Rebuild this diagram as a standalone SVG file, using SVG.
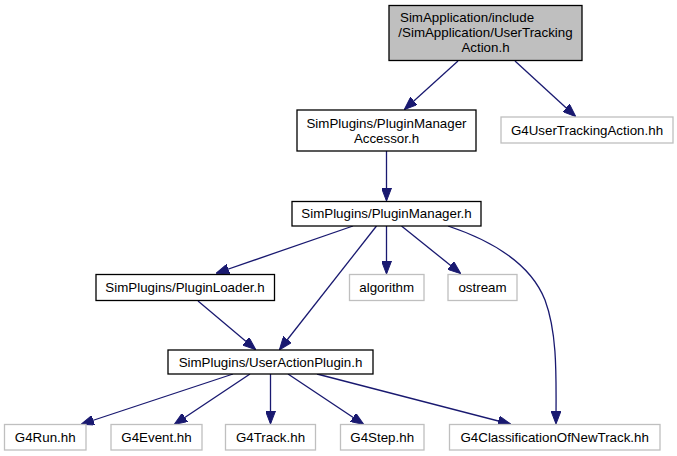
<svg xmlns="http://www.w3.org/2000/svg" width="677" height="456" viewBox="0 0 677 456">
<style>
  text { font-family: "Liberation Sans", Arial, Helvetica, sans-serif; font-size: 13.33px; fill: #000; }
  .c { text-anchor: middle; }
  .s { text-anchor: start; }
  .n rect { fill: #fff; stroke: #000; stroke-width: 1.3; }
  .g rect { fill: #fff; stroke: #bfbfbf; stroke-width: 1.3; }
  .top rect { fill: #bfbfbf; stroke: #000; stroke-width: 1.3; }
  #edges path { fill: none; stroke: #191970; stroke-width: 1.3; marker-end: url(#ah); }
</style>
<defs>
  <marker id="ah" viewBox="0 0 13 10" refX="12" refY="5" markerWidth="13" markerHeight="10" markerUnits="userSpaceOnUse" orient="auto">
    <path d="M0,0 L13,5 L0,10 z" fill="#191970" stroke="#191970" stroke-width="1"/>
  </marker>
</defs>
<rect width="677" height="456" fill="#fff"/>
<g id="edges">
  <path d="M458,61 L405,109"/>
  <path d="M515,61 L575,116"/>
  <path d="M386.5,151 L386.5,200"/>
  <path d="M353,226 L217,273"/>
  <path d="M376.5,226 L280,349"/>
  <path d="M198,301 L255,349"/>
  <path d="M386.5,226 L386.5,273"/>
  <path d="M401.5,226 L460,273"/>
  <path d="M448,226 C490,240 530,262 545,300 C558,335 556,380 556,423"/>
  <path d="M233,374 L82,424"/>
  <path d="M250,374 L175,424"/>
  <path d="M270.5,374 L270.5,423"/>
  <path d="M288,374 L363,424"/>
  <path d="M317,374 L510,424"/>
</g>
<g id="node-useraction" class="top">
  <rect x="389" y="5.5" width="193" height="55"/>
  <text class="s" x="400" y="21.5">SimApplication/include</text>
  <text class="c" x="485.5" y="36.5">/SimApplication/UserTracking</text>
  <text class="c" x="485.5" y="51.5">Action.h</text>
</g>
<g id="node-accessor" class="n">
  <rect x="297" y="110" width="179" height="41"/>
  <text class="c" x="386.5" y="127.7">SimPlugins/PluginManager</text>
  <text class="c" x="386.5" y="142.7">Accessor.h</text>
</g>
<g id="node-g4usertracking" class="g">
  <rect x="501" y="117" width="172" height="26"/>
  <text class="c" x="587" y="134.7">G4UserTrackingAction.hh</text>
</g>
<g id="node-pluginmanager" class="n">
  <rect x="292" y="201.5" width="189" height="24.5"/>
  <text class="c" x="386.5" y="218.4">SimPlugins/PluginManager.h</text>
</g>
<g id="node-pluginloader" class="n">
  <rect x="96" y="274.5" width="178.5" height="26"/>
  <text class="c" x="185" y="292">SimPlugins/PluginLoader.h</text>
</g>
<g id="node-algorithm" class="g">
  <rect x="349.5" y="274.5" width="74.5" height="26"/>
  <text class="c" x="386.7" y="292">algorithm</text>
</g>
<g id="node-ostream" class="g">
  <rect x="448" y="274.5" width="69" height="26"/>
  <text class="c" x="482.5" y="292">ostream</text>
</g>
<g id="node-useractionplugin" class="n">
  <rect x="168" y="350" width="205" height="24"/>
  <text class="c" x="270.5" y="366.7">SimPlugins/UserActionPlugin.h</text>
</g>
<g id="node-g4run" class="g">
  <rect x="4.5" y="424.5" width="81.5" height="25.5"/>
  <text class="c" x="45.2" y="441.7">G4Run.hh</text>
</g>
<g id="node-g4event" class="g">
  <rect x="111" y="424.5" width="91" height="25.5"/>
  <text class="c" x="156.5" y="441.7">G4Event.hh</text>
</g>
<g id="node-g4track" class="g">
  <rect x="225.5" y="424.5" width="90" height="25.5"/>
  <text class="c" x="270.5" y="441.7">G4Track.hh</text>
</g>
<g id="node-g4step" class="g">
  <rect x="340.5" y="424.5" width="83.5" height="25.5"/>
  <text class="c" x="382.2" y="441.7">G4Step.hh</text>
</g>
<g id="node-g4classification" class="g">
  <rect x="449.5" y="424.5" width="210.5" height="25.5"/>
  <text class="c" x="554.7" y="441.7">G4ClassificationOfNewTrack.hh</text>
</g>
</svg>
